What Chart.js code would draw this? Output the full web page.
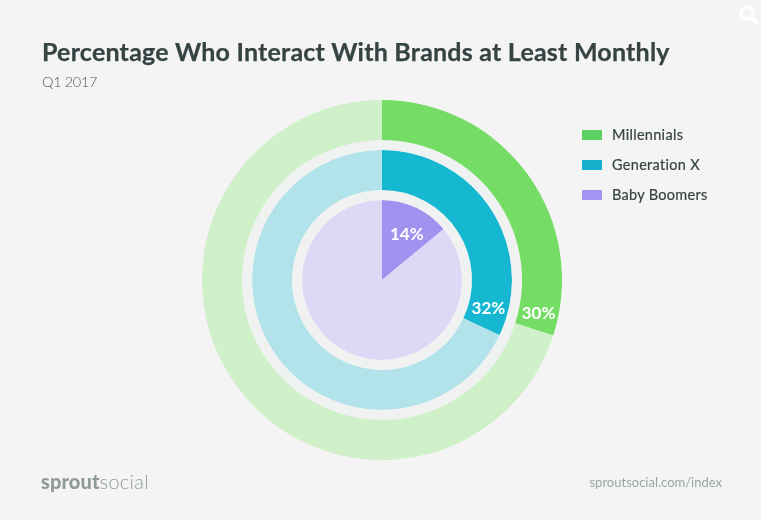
<!DOCTYPE html>
<html>
<head>
<meta charset="utf-8">
<script src="https://cdn.jsdelivr.net/npm/chart.js@4/dist/chart.umd.min.js"></script>
<style>
html,body{margin:0;padding:0;background:#f4f4f4;width:761px;height:520px;overflow:hidden}
#wrap{position:relative;width:761px;height:520px;font-family:Lato,"Open Sans",sans-serif}
canvas{position:absolute;left:0;top:0}
.t{position:absolute;white-space:nowrap;line-height:1}
#title{left:42px;top:39px;font-size:25px;font-weight:700;color:#364343;letter-spacing:.22px;-webkit-text-stroke:.25px #364343}
#sub{left:42px;top:75px;font-size:14.5px;font-weight:300;color:#4f5a5a;letter-spacing:-.35px}
#legend .row{position:absolute;left:582px;height:10px}
#legend .sw{position:absolute;left:0;top:0;width:20px;height:10px}
#legend .lb{position:absolute;left:30px;top:-3px;font-size:14.5px;color:#364343;white-space:nowrap;line-height:16px;letter-spacing:.3px;-webkit-text-stroke:.2px #364343}
#logo{left:41px;top:471px;font-size:20px;color:#8f9a9a;letter-spacing:.1px}
#logo b{font-weight:900}
#logo span{font-weight:300;letter-spacing:.3px}
#url{right:39px;top:476px;font-size:13px;color:#9aa5a5}
svg{position:absolute;left:735px;top:2px}
</style>
</head>
<body>
<div id="wrap">
<canvas id="c" width="761" height="520"></canvas>
<div class="t" id="title"></div>
<div class="t" id="sub"></div>
<div id="legend"></div>
<div class="t" id="logo"><b>sprout</b><span>social</span></div>
<div class="t" id="url">sproutsocial.com/index</div>
<svg width="26" height="26" viewBox="0 0 26 26"><circle cx="12" cy="11" r="6" fill="none" stroke="#fff" stroke-width="3.2"/><line x1="16.5" y1="15.5" x2="21.5" y2="20.5" stroke="#fff" stroke-width="3.4" stroke-linecap="round"/></svg>
</div>
<script>
const chartTitle = "Percentage Who Interact With Brands at Least Monthly";
const chartSubtitle = "Q1 2017";
const seriesNames = ["Millennials", "Generation X", "Baby Boomers"];
const millennials = [30, 70];
const generationX = [32, 68];
const babyBoomers = [14, 86];
const spacerValues = [1];

const strongColors = ["#75dd66", "#15b8d0", "#a391f0"];
const paleColors = ["#cff0c9", "#b3e3ea", "#dcd8f6"];
const legendColors = ["#5ad162", "#17b0cc", "#a394f1"];
const gapColor = "#f0f2f2";

document.getElementById("title").textContent = chartTitle;
document.getElementById("sub").textContent = chartSubtitle;
const legend = document.getElementById("legend");
seriesNames.forEach((name, i) => {
  const row = document.createElement("div");
  row.className = "row";
  row.style.top = (130 + i * 30) + "px";
  row.innerHTML = '<div class="sw" style="background:' + legendColors[i] + '"></div><div class="lb">' + name + '</div>';
  legend.appendChild(row);
});

// label placement per ring: degrees back from the slice end, fraction of the ring radius span
const labelPlacement = {0: [6, 0.5], 2: [10.5, 0.5], 4: [22, 0.65]};
const sliceLabels = {
  id: "sliceLabels",
  afterDatasetsDraw(chart) {
    const ctx = chart.ctx;
    ctx.save();
    ctx.fillStyle = "#ffffff";
    ctx.font = "700 17px Lato, 'Open Sans', sans-serif";
    ctx.textAlign = "center";
    ctx.textBaseline = "middle";
    Object.keys(labelPlacement).forEach(k => {
      const idx = +k, arc = chart.getDatasetMeta(idx).data[0];
      const p = arc.getProps(["x", "y", "endAngle", "innerRadius", "outerRadius"], true);
      const ang = p.endAngle - labelPlacement[k][0] * Math.PI / 180;
      const r = p.innerRadius + (p.outerRadius - p.innerRadius) * labelPlacement[k][1];
      ctx.fillText(chart.data.datasets[idx].data[0] + "%", p.x + Math.cos(ang) * r, p.y + Math.sin(ang) * r + 0.5);
    });
    ctx.restore();
  }
};

new Chart(document.getElementById("c"), {
  type: "doughnut",
  plugins: [sliceLabels],
  data: {
    labels: ["Interact", "Other"],
    datasets: [
      {label: seriesNames[0], data: millennials, backgroundColor: [strongColors[0], paleColors[0]], weight: 40},
      {label: "gap", data: spacerValues, backgroundColor: [gapColor], weight: 10},
      {label: seriesNames[1], data: generationX, backgroundColor: [strongColors[1], paleColors[1]], weight: 40},
      {label: "gap", data: spacerValues, backgroundColor: [gapColor], weight: 10},
      {label: seriesNames[2], data: babyBoomers, backgroundColor: [strongColors[2], paleColors[2]], weight: 80}
    ]
  },
  options: {
    responsive: false,
    animation: false,
    cutout: 0,
    borderWidth: 0,
    elements: {arc: {borderWidth: 0, offset: 0, hoverOffset: 0}},
    layout: {padding: {left: 202, top: 100, right: 199, bottom: 60}},
    plugins: {legend: {display: false}, tooltip: {enabled: false}, title: {display: false}}
  }
});
</script>
</body>
</html>
